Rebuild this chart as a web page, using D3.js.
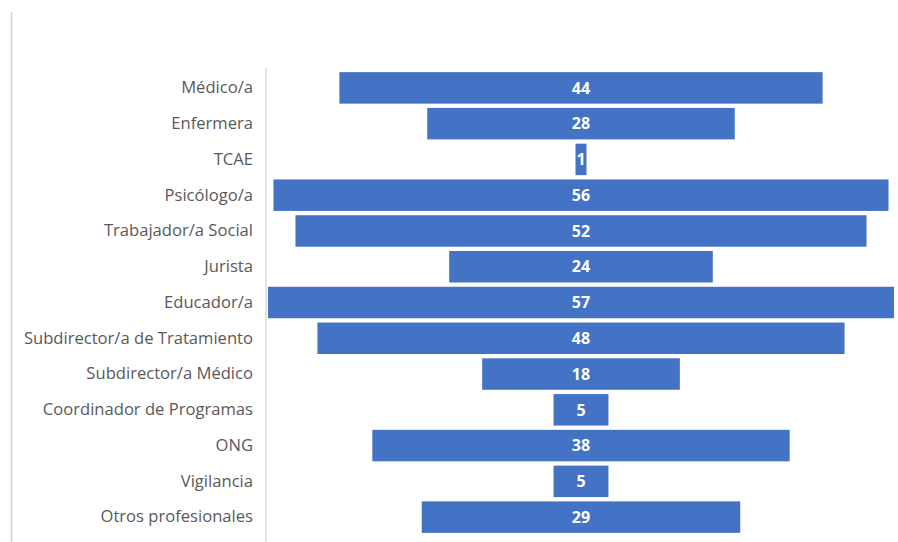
<!DOCTYPE html>
<html>
<head>
<meta charset="utf-8">
<script src="https://cdn.jsdelivr.net/npm/d3@7"></script>
<style>
  body { margin: 0; background: #fff; }
  svg { font-family: "Open Sans", sans-serif; }
</style>
</head>
<body>
<div id="chart"></div>
<script>
const categories = ["Médico/a", "Enfermera", "TCAE", "Psicólogo/a", "Trabajador/a Social", "Jurista",
    "Educador/a", "Subdirector/a de Tratamiento", "Subdirector/a Médico", "Coordinador de Programas",
    "ONG", "Vigilancia", "Otros profesionales"];
const values = [44, 28, 1, 56, 52, 24, 57, 48, 18, 5, 38, 5, 29];

const width = 898, height = 542;

const svg = d3.select("#chart").append("svg").attr("width", width).attr("height", height);

// marco izquierdo
svg.append("line").attr("x1", 11.5).attr("x2", 11.5).attr("y1", 12).attr("y2", height)
    .attr("stroke", "#d0d0d0").attr("stroke-width", 1.5);

const y = d3.scaleBand().domain(categories).range([70, 535]).paddingInner(0.12).paddingOuter(0.06);
const x = d3.scaleLinear().domain([-28.5, 28.5]).range([268, 894]);

// eje vertical
const axis = svg.append("g").attr("transform", "translate(266,0)")
    .call(d3.axisLeft(y).tickSize(0).tickPadding(13));
axis.select(".domain").attr("stroke", "#d0d0d0").attr("stroke-width", 1.2).attr("d", `M0,68V${height}`);
axis.selectAll("text").attr("fill", "#595959").style("font-size", "16.6px")
    .style("font-family", "'Open Sans', sans-serif");

// barras centradas
svg.selectAll("rect.bar").data(values).enter().append("rect")
    .attr("class", "bar")
    .attr("x", d => x(-d / 2))
    .attr("y", (d, i) => y(categories[i]))
    .attr("width", d => x(d / 2) - x(-d / 2))
    .attr("height", y.bandwidth())
    .attr("fill", "#4472C4");

svg.selectAll("text.val").data(values).enter().append("text")
    .attr("class", "val")
    .attr("x", x(0))
    .attr("y", (d, i) => y(categories[i]) + y.bandwidth() / 2)
    .attr("dy", "0.36em")
    .attr("text-anchor", "middle")
    .attr("fill", "#fff")
    .style("font-size", "16px").style("font-weight", "bold")
    .text(d => d);
</script>
</body>
</html>
